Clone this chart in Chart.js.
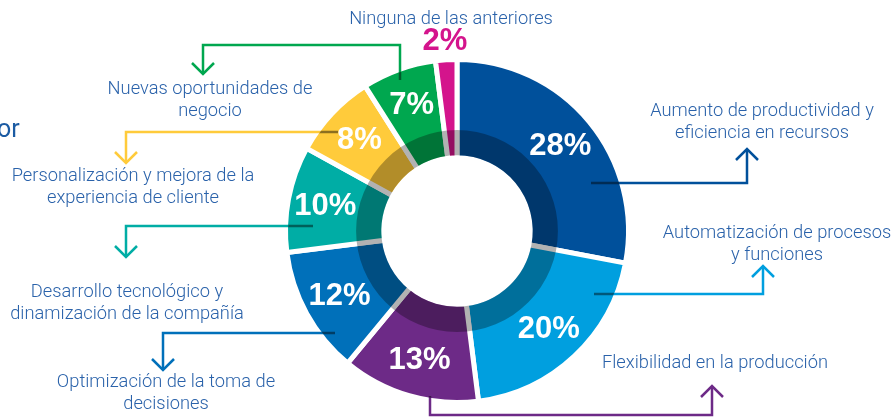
<!DOCTYPE html>
<html lang="es">
<head>
<meta charset="utf-8">
<title>Beneficios</title>
<script src="https://cdn.jsdelivr.net/npm/chart.js@4.4.1/dist/chart.umd.min.js"></script>
<style>
    html, body { margin: 0; padding: 0; background: #fff; overflow: hidden; }
    #wrap { position: relative; width: 895px; height: 418px; }
    #donut { position: absolute; left: 0; top: 0; }
    .callout {
        position: absolute;
        transform: translateX(-50%);
        white-space: nowrap;
        text-align: center;
        font-family: Roboto, "Liberation Sans", Arial, sans-serif;
        font-weight: 300;
        font-size: 18.3px;
        line-height: 22px;
        color: #2a62aa;
    }
    .cut-title {
        position: absolute;
        left: -3px;
        top: 114px;
        font-family: Roboto, "Liberation Sans", Arial, sans-serif;
        font-size: 25px;
        color: #1b5ba3;
    }
</style>
</head>
<body>
<div id="wrap">
    <canvas id="donut" width="895" height="418"></canvas>
    <div class="cut-title">or</div>
</div>

<script>
// Chart data
const categories = [
    ['Aumento de productividad y', 'eficiencia en recursos'],
    ['Automatización de procesos', 'y funciones'],
    ['Flexibilidad en la producción'],
    ['Optimización de la toma de', 'decisiones'],
    ['Desarrollo tecnológico y', 'dinamización de la compañía'],
    ['Personalización y mejora de la', 'experiencia de cliente'],
    ['Nuevas oportunidades de', 'negocio'],
    ['Ninguna de las anteriores']
];
const values = [28, 20, 13, 12, 10, 8, 7, 2];
const sliceColors = ['#00509b', '#009fdf', '#6d2a87', '#0070ba', '#00ada5', '#ffcb3b', '#00a74f', '#d4148c'];

// Layout of the callouts (text centre, first line) and their connectors
const calloutPos = [
    [762, 99], [777, 221], [715, 351], [166, 370],
    [127, 280], [133, 164], [210, 77], [451, 7]
];
const connectors = [
    { pts: [[591, 183], [747, 183], [747, 149]], dir: 'up' },
    { pts: [[594, 294], [763, 294], [763, 266]], dir: 'up' },
    { pts: [[430, 396], [430, 415], [712, 415], [712, 386]], dir: 'up' },
    { pts: [[335, 333], [163, 333], [163, 370]], dir: 'down' },
    { pts: [[313, 226], [126, 226], [126, 257]], dir: 'down' },
    { pts: [[338, 132], [126, 132], [126, 163]], dir: 'down' },
    { pts: [[400, 80], [400, 45], [203, 45], [203, 74]], dir: 'down' },
    null
];

document.addEventListener('DOMContentLoaded', function() {
    buildCallouts();
    initializeDonut();
});

function buildCallouts() {
    const wrap = document.getElementById('wrap');
    categories.forEach(function(lines, i) {
        const div = document.createElement('div');
        div.className = 'callout';
        div.style.left = calloutPos[i][0] + 'px';
        div.style.top = calloutPos[i][1] + 'px';
        div.innerHTML = lines.join('<br>');
        wrap.appendChild(div);
    });
}

// darker inner band + percentage labels + connector lines
const donutDecor = {
    id: 'donutDecor',
    afterDatasetsDraw(chart) {
        const ctx = chart.ctx;
        const arcs = chart.getDatasetMeta(0).data;
        if (!arcs.length) return;
        const bw = chart.data.datasets[0].borderWidth;
        const cx = arcs[0].x, cy = arcs[0].y;
        const outer = arcs[0].outerRadius - bw / 2;
        const inner = arcs[0].innerRadius + bw / 2;
        const band = inner + (outer - inner) * 0.27;

        // shaded band
        ctx.save();
        ctx.beginPath();
        ctx.arc(cx, cy, band, 0, Math.PI * 2);
        ctx.arc(cx, cy, inner, 0, Math.PI * 2, true);
        ctx.fillStyle = 'rgba(0,0,0,0.3)';
        ctx.fill();
        ctx.restore();

        // connectors
        ctx.save();
        ctx.lineWidth = 2.5;
        ctx.lineJoin = 'miter';
        ctx.lineCap = 'butt';
        connectors.forEach(function(c, i) {
            if (!c) return;
            ctx.strokeStyle = sliceColors[i];
            strokeConnector(ctx, c);
        });
        // darker where the lines cross the slices
        ctx.beginPath();
        ctx.arc(cx, cy, outer, 0, Math.PI * 2);
        ctx.clip();
        connectors.forEach(function(c) {
            if (!c) return;
            ctx.strokeStyle = 'rgba(0,0,0,0.45)';
            strokeConnector(ctx, c);
        });
        ctx.restore();

        // percentages
        ctx.save();
        ctx.font = 'bold 31px "Liberation Sans", Arial, sans-serif';
        ctx.textAlign = 'center';
        ctx.textBaseline = 'middle';
        arcs.forEach(function(arc, i) {
            const mid = (arc.startAngle + arc.endAngle) / 2;
            const small = values[i] < 5;
            const r = small ? outer + 22 : outer - 35;
            ctx.fillStyle = small ? sliceColors[i] : '#ffffff';
            ctx.fillText(values[i] + '%', cx + Math.cos(mid) * r, cy + Math.sin(mid) * r + 1);
        });
        ctx.restore();
    }
};

function strokeConnector(ctx, c) {
    const p = c.pts;
    ctx.beginPath();
    ctx.moveTo(p[0][0], p[0][1]);
    for (let k = 1; k < p.length; k++) ctx.lineTo(p[k][0], p[k][1]);
    ctx.stroke();
    const tip = p[p.length - 1];
    const s = c.dir === 'up' ? 1 : -1;
    ctx.beginPath();
    ctx.moveTo(tip[0] - 11, tip[1] + s * 11);
    ctx.lineTo(tip[0], tip[1]);
    ctx.lineTo(tip[0] + 11, tip[1] + s * 11);
    ctx.stroke();
}

function initializeDonut() {
    const ctx = document.getElementById('donut');
    if (!ctx) return;

    new Chart(ctx, {
        type: 'doughnut',
        data: {
            labels: categories.map(l => l.join(' ')),
            datasets: [{
                data: values,
                backgroundColor: sliceColors,
                borderColor: '#ffffff',
                borderWidth: 5
            }]
        },
        options: {
            responsive: false,
            animation: false,
            events: [],
            cutout: '42.7%',
            layout: {
                padding: { left: 283, right: 264, top: 57, bottom: 13 }
            },
            plugins: {
                legend: { display: false },
                tooltip: { enabled: false }
            }
        },
        plugins: [donutDecor]
    });
}
</script>
</body>
</html>
